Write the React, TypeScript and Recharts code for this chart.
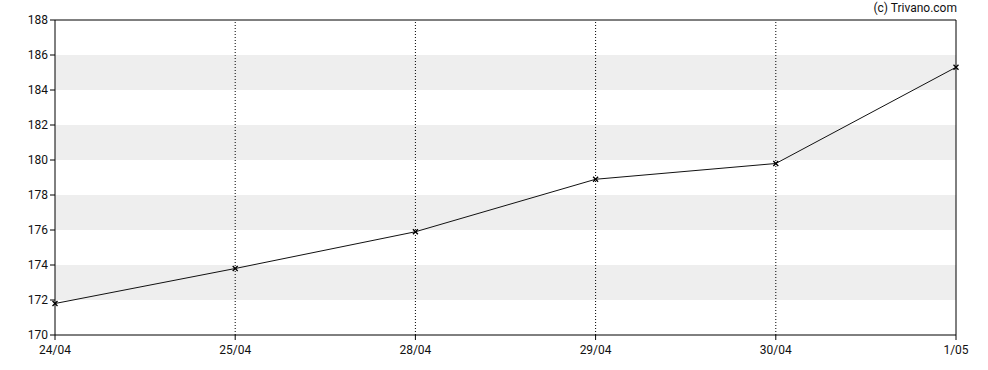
import React from 'react';
import {
  LineChart,
  Line,
  XAxis,
  YAxis,
  ReferenceArea,
  ReferenceLine,
} from 'recharts';

const dates = ['24/04', '25/04', '28/04', '29/04', '30/04', '1/05'];
const prices = [171.8, 173.8, 175.9, 178.9, 179.8, 185.3];
const yTicks = [170, 172, 174, 176, 178, 180, 182, 184, 186, 188];
const bands: Array<[number, number]> = [
  [172, 174],
  [176, 178],
  [180, 182],
  [184, 186],
];

const data = dates.map((date, i) => ({ date, price: prices[i] }));

const font = { fontFamily: 'Roboto, sans-serif', fontSize: 12, fill: '#111' };

function CrossDot({ cx, cy }: { cx?: number; cy?: number }) {
  if (cx == null || cy == null) return null;
  const r = 2.5;
  return (
    <path
      d={`M${cx - r},${cy - r}L${cx + r},${cy + r}M${cx - r},${cy + r}L${cx + r},${cy - r}`}
      stroke="#000"
      strokeWidth={1.3}
    />
  );
}

export default function App() {
  return (
    <div style={{ position: 'absolute', left: 0, top: 0, width: 988, height: 370, background: '#fff' }}>
      <div
        style={{
          position: 'absolute',
          right: 31,
          top: 1,
          fontFamily: 'Roboto, sans-serif',
          fontSize: 12,
          color: '#111',
        }}
      >
        (c) Trivano.com
      </div>
      <LineChart
        width={988}
        height={370}
        data={data}
        margin={{ top: 20, right: 32, bottom: 0, left: 0 }}
      >
        {bands.map(([y1, y2]) => (
          <ReferenceArea
            key={y1}
            y1={y1}
            y2={y2}
            fill="#eeeeee"
            fillOpacity={1}
            stroke="none"
            ifOverflow="hidden"
          />
        ))}
        {dates.slice(1, -1).map((d) => (
          <ReferenceLine key={d} x={d} stroke="#000" strokeDasharray="1 2" />
        ))}
        <XAxis
          dataKey="date"
          height={35}
          tickSize={5}
          tickMargin={5}
          tick={font}
          stroke="#000"
          tickLine={{ stroke: '#000' }}
          interval={0}
        />
        <YAxis
          domain={[170, 188]}
          ticks={yTicks}
          width={55}
          tickSize={5}
          tickMargin={2}
          tick={font}
          stroke="#000"
          interval={0}
        />
        <ReferenceLine y={188} stroke="#000" strokeWidth={1} />
        <ReferenceLine x={dates[dates.length - 1]} stroke="#000" strokeWidth={1} />
        <Line
          type="linear"
          dataKey="price"
          stroke="#111"
          strokeWidth={1}
          dot={<CrossDot />}
          activeDot={false}
          isAnimationActive={false}
        />
      </LineChart>
    </div>
  );
}
